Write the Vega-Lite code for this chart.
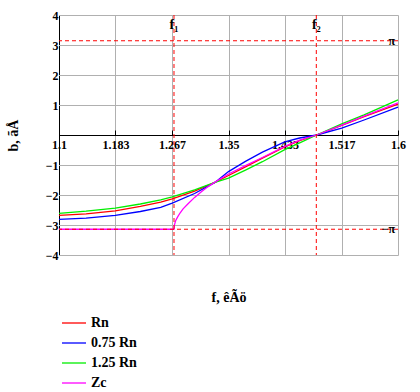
{
  "$schema": "https://vega.github.io/schema/vega-lite/v6.json",
  "width": 339,
  "height": 240,
  "autosize": {"type": "none"},
  "padding": {"left": 59, "top": 15, "right": 22, "bottom": 137},
  "background": "white",
  "config": {"view": {"stroke": null}, "font": "Times New Roman, Liberation Serif, serif",
    "legend": {"labelFont": "Times New Roman, Liberation Serif, serif"},
    "axis": {"labelFont": "Times New Roman, Liberation Serif, serif", "titleFont": "Times New Roman, Liberation Serif, serif",
      "grid": true, "gridColor": "#b0b0b0", "gridOpacity": 1, "gridWidth": 1,
      "domainColor": "black", "domainWidth": 1, "tickColor": "black", "tickWidth": 1,
      "labelFontWeight": "bold", "labelFontSize": 12, "labelColor": "black", "labelFlush": false, "labelOverlap": false,
      "titleFontSize": 14, "titleFontWeight": "bold", "titleColor": "black"},
    "axisY": {"tickCount": 8, "tickSize": -4, "labelPadding": 5, "labelExpr": "datum.value == 0 ? '' : datum.label",
      "titleAngle": 270, "titleX": -46, "titleY": 120, "titleAlign": "center", "titleBaseline": "middle"}},
  "layer": [
    {
      "data": {"values": [{"b": -4}, {"b": -3}, {"b": -2}, {"b": -1}, {"b": 1}, {"b": 2}, {"b": 3}, {"b": 4}]},
      "mark": {"type": "rule", "color": "#b0b0b0", "strokeWidth": 1.2, "yOffset": 0.5},
      "encoding": {
        "y": {"field": "b", "type": "quantitative", "scale": {"domain": [-4, 4], "nice": false, "zero": false},
          "axis": {"title": "b, ãÅ", "grid": true, "tickCount": 8}}
      }
    },
    {
      "data": {"values": [
        {"s": "Rn", "f": 1.1, "b": -2.68}, {"s": "Rn", "f": 1.14, "b": -2.63}, {"s": "Rn", "f": 1.183, "b": -2.53},
        {"s": "Rn", "f": 1.22, "b": -2.38}, {"s": "Rn", "f": 1.25, "b": -2.24}, {"s": "Rn", "f": 1.267, "b": -2.13},
        {"s": "Rn", "f": 1.3, "b": -1.87}, {"s": "Rn", "f": 1.33, "b": -1.58}, {"s": "Rn", "f": 1.35, "b": -1.35},
        {"s": "Rn", "f": 1.375, "b": -1.06}, {"s": "Rn", "f": 1.4, "b": -0.77}, {"s": "Rn", "f": 1.433, "b": -0.4},
        {"s": "Rn", "f": 1.455, "b": -0.19}, {"s": "Rn", "f": 1.48, "b": 0}, {"s": "Rn", "f": 1.517, "b": 0.32},
        {"s": "Rn", "f": 1.55, "b": 0.61}, {"s": "Rn", "f": 1.6, "b": 1.03},
        {"s": "0.75 Rn", "f": 1.1, "b": -2.81}, {"s": "0.75 Rn", "f": 1.14, "b": -2.77}, {"s": "0.75 Rn", "f": 1.183, "b": -2.68},
        {"s": "0.75 Rn", "f": 1.22, "b": -2.55}, {"s": "0.75 Rn", "f": 1.25, "b": -2.41}, {"s": "0.75 Rn", "f": 1.267, "b": -2.27},
        {"s": "0.75 Rn", "f": 1.3, "b": -1.95}, {"s": "0.75 Rn", "f": 1.33, "b": -1.58}, {"s": "0.75 Rn", "f": 1.35, "b": -1.22},
        {"s": "0.75 Rn", "f": 1.375, "b": -0.88}, {"s": "0.75 Rn", "f": 1.4, "b": -0.57}, {"s": "0.75 Rn", "f": 1.433, "b": -0.23},
        {"s": "0.75 Rn", "f": 1.455, "b": -0.1}, {"s": "0.75 Rn", "f": 1.48, "b": 0}, {"s": "0.75 Rn", "f": 1.517, "b": 0.23},
        {"s": "0.75 Rn", "f": 1.55, "b": 0.5}, {"s": "0.75 Rn", "f": 1.6, "b": 0.93},
        {"s": "1.25 Rn", "f": 1.1, "b": -2.61}, {"s": "1.25 Rn", "f": 1.14, "b": -2.54}, {"s": "1.25 Rn", "f": 1.183, "b": -2.44},
        {"s": "1.25 Rn", "f": 1.22, "b": -2.3}, {"s": "1.25 Rn", "f": 1.25, "b": -2.16}, {"s": "1.25 Rn", "f": 1.267, "b": -2.06},
        {"s": "1.25 Rn", "f": 1.3, "b": -1.83}, {"s": "1.25 Rn", "f": 1.33, "b": -1.58}, {"s": "1.25 Rn", "f": 1.35, "b": -1.44},
        {"s": "1.25 Rn", "f": 1.375, "b": -1.17}, {"s": "1.25 Rn", "f": 1.4, "b": -0.89}, {"s": "1.25 Rn", "f": 1.433, "b": -0.49},
        {"s": "1.25 Rn", "f": 1.455, "b": -0.26}, {"s": "1.25 Rn", "f": 1.48, "b": 0}, {"s": "1.25 Rn", "f": 1.517, "b": 0.37},
        {"s": "1.25 Rn", "f": 1.55, "b": 0.67}, {"s": "1.25 Rn", "f": 1.6, "b": 1.17},
        {"s": "Zc", "f": 1.1, "b": -3.1416}, {"s": "Zc", "f": 1.2696, "b": -3.1416}, {"s": "Zc", "f": 1.2702, "b": -3.0},
        {"s": "Zc", "f": 1.272, "b": -2.86}, {"s": "Zc", "f": 1.275, "b": -2.73}, {"s": "Zc", "f": 1.2785, "b": -2.6},
        {"s": "Zc", "f": 1.283, "b": -2.46}, {"s": "Zc", "f": 1.29, "b": -2.3}, {"s": "Zc", "f": 1.3, "b": -2.08},
        {"s": "Zc", "f": 1.31, "b": -1.89}, {"s": "Zc", "f": 1.32, "b": -1.72}, {"s": "Zc", "f": 1.33, "b": -1.57},
        {"s": "Zc", "f": 1.35, "b": -1.3}, {"s": "Zc", "f": 1.375, "b": -1.02}, {"s": "Zc", "f": 1.4, "b": -0.75},
        {"s": "Zc", "f": 1.433, "b": -0.38}, {"s": "Zc", "f": 1.455, "b": -0.17}, {"s": "Zc", "f": 1.48, "b": 0},
        {"s": "Zc", "f": 1.517, "b": 0.33}, {"s": "Zc", "f": 1.55, "b": 0.63}, {"s": "Zc", "f": 1.6, "b": 1.07}
      ]},
      "mark": {"type": "line", "strokeWidth": 1.3},
      "encoding": {
        "x": {"field": "f", "type": "quantitative", "scale": {"domain": [1.1, 1.6], "nice": false, "zero": false},
          "axis": {"values": [1.1, 1.18333, 1.26667, 1.35, 1.43333, 1.51667, 1.6], "format": ".4~r", "offset": -120,
            "tickSize": -5, "labelPadding": 9, "labelDx": 3.5,
            "title": "f, êÃö", "titleX": 169.5, "titleY": 166, "titleBaseline": "alphabetic", "titleAlign": "center"}},
        "y": {"field": "b", "type": "quantitative"},
        "color": {"field": "s", "type": "nominal",
          "scale": {"domain": ["Rn", "0.75 Rn", "1.25 Rn", "Zc"], "range": ["#ff0000", "#0000ff", "#00ee00", "#ff00ff"]},
          "legend": {"orient": "none", "legendX": 2, "legendY": 295, "title": null, "direction": "vertical",
            "symbolType": "stroke", "symbolSize": 576, "symbolStrokeWidth": 1.3,
            "labelFontSize": 14, "labelFontWeight": "bold", "labelColor": "black",
            "labelOffset": 4, "rowPadding": -5}}
      }
    },
    {
      "data": {"values": [{"f": 1.2696}, {"f": 1.4795}]},
      "mark": {"type": "rule", "color": "#ff0000", "strokeDash": [4, 3], "strokeWidth": 1},
      "encoding": {
        "x": {"field": "f", "type": "quantitative"}
      }
    },
    {
      "data": {"values": [{"b": 3.1416}, {"b": -3.1416}]},
      "mark": {"type": "rule", "color": "#ff0000", "strokeDash": [4, 3], "strokeWidth": 1},
      "encoding": {
        "y": {"field": "b", "type": "quantitative"}
      }
    },
    {
      "data": {"values": [{"f": 1.2696, "b": 4, "t": "f₁"}, {"f": 1.4795, "b": 4, "t": "f₂"}]},
      "mark": {"type": "text", "fontWeight": "bold", "fontSize": 14, "baseline": "top", "align": "center", "dy": 3, "color": "black"},
      "encoding": {
        "x": {"field": "f", "type": "quantitative"},
        "y": {"field": "b", "type": "quantitative"},
        "text": {"field": "t"}
      }
    },
    {
      "data": {"values": [{"f": 1.6, "b": 3.1416, "t": "π"}, {"f": 1.6, "b": -3.1416, "t": "−π"}]},
      "mark": {"type": "text", "fontWeight": "bold", "fontSize": 12, "baseline": "middle", "align": "right", "dx": -3, "color": "black"},
      "encoding": {
        "x": {"field": "f", "type": "quantitative"},
        "y": {"field": "b", "type": "quantitative"},
        "text": {"field": "t"}
      }
    }
  ]
}
